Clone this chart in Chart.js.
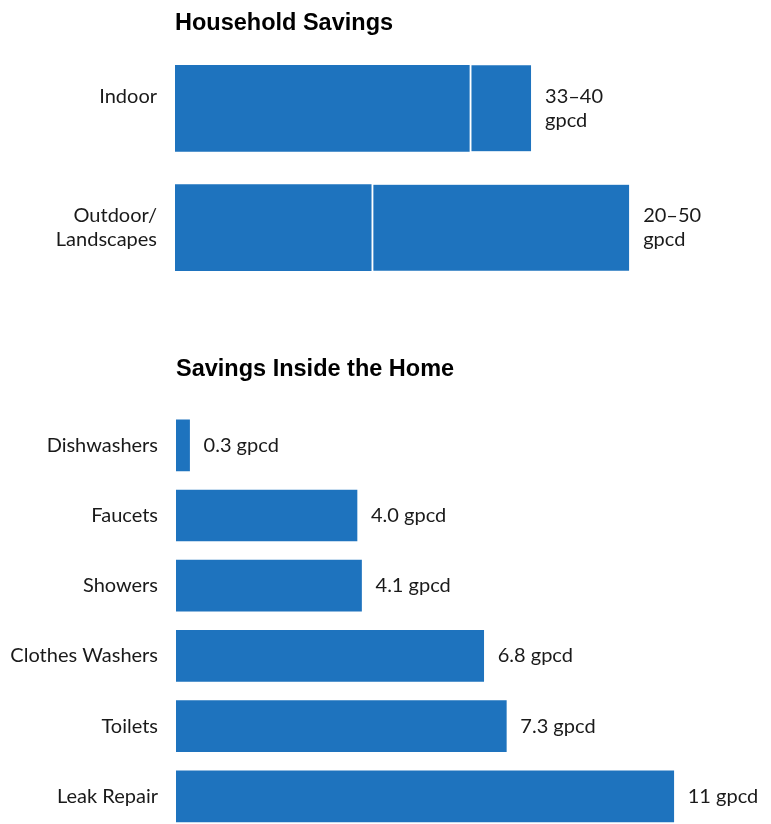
<!DOCTYPE html>
<html>
<head>
<meta charset="utf-8">
<script src="https://cdn.jsdelivr.net/npm/chart.js@4.4.1/dist/chart.umd.min.js"></script>
<style>
  html, body { margin: 0; padding: 0; background: #fff; overflow: hidden; }
  #wrap { position: relative; width: 771px; height: 824px; }
  canvas { position: absolute; left: 0; }
  #householdChart { top: 0; }
  #homeChart { top: 300px; }
</style>
</head>
<body>
<div id="wrap">
  <canvas id="householdChart" width="771" height="300"></canvas>
  <canvas id="homeChart" width="771" height="540"></canvas>
</div>
<script>
// household savings (gpcd) - low end of range and the extra up to the high end
const householdCategories = [["Indoor", ""], ["Outdoor/", "Landscapes"]];
const householdLow = [32.4, 21.6];
const householdExtra = [6.8, 28.4];
const householdValueLabels = [["33–40", "gpcd"], ["20–50", "gpcd"]];

// savings inside the home (gpcd)
const homeCategories = ["Dishwashers", "Faucets", "Showers", "Clothes Washers", "Toilets", "Leak Repair"];
const homeValues = [0.3, 4.0, 4.1, 6.8, 7.3, 11];
const homeValueLabels = ["0.3 gpcd", "4.0 gpcd", "4.1 gpcd", "6.8 gpcd", "7.3 gpcd", "11 gpcd"];

const blue = "#1e73be";
const labelFont = { family: "Lato", size: 20, lineHeight: 1.23 };

// writes the value text just right of the end of each bar
const valueLabels = {
  id: "valueLabels",
  afterDatasetsDraw(chart, args, opts) {
    const ctx = chart.ctx;
    const meta = chart.getDatasetMeta(chart.data.datasets.length - 1);
    ctx.save();
    ctx.font = `${labelFont.size}px ${labelFont.family}`;
    ctx.fillStyle = "#1a1a1a";
    ctx.textAlign = "left";
    ctx.textBaseline = "middle";
    const lh = labelFont.size * labelFont.lineHeight;
    meta.data.forEach((bar, i) => {
      let lines = opts.labels[i];
      if (!Array.isArray(lines)) lines = [lines];
      lines.forEach((txt, j) => {
        ctx.fillText(txt, bar.x + 14, bar.y + (j - (lines.length - 1) / 2) * lh);
      });
    });
    ctx.restore();
  }
};

function yAxis(width) {
  return {
    stacked: true,
    grid: { display: false, drawTicks: false },
    border: { display: false },
    ticks: { color: "#1a1a1a", font: labelFont, padding: 18, autoSkip: false },
    afterFit(scale) {
      scale.width = width;
      // labels sit inside their bands, so no extra room above/below
      scale.paddingTop = 0;
      scale.paddingBottom = 0;
    }
  };
}

function titleOpts(text, top, bottom) {
  return {
    display: true,
    text: text,
    align: "start",
    fullSize: false,
    color: "#000",
    font: { family: "Liberation Sans", weight: "bold", size: 23.5, lineHeight: 1.2 },
    padding: { top: top, bottom: bottom }
  };
}

new Chart(document.getElementById("householdChart"), {
  type: "bar",
  data: {
    labels: householdCategories,
    datasets: [
      {
        data: householdLow,
        backgroundColor: blue,
        borderWidth: 0,
        barThickness: 86
      },
      {
        data: householdExtra,
        backgroundColor: blue,
        borderColor: "#ffffff",
        borderWidth: { left: 2.5, right: 0, top: 0, bottom: 0 },
        borderSkipped: false,
        barThickness: 86
      }
    ]
  },
  options: {
    indexAxis: "y",
    responsive: false,
    animation: false,
    layout: { padding: { top: 0, right: 51, bottom: 12.7, left: 0 } },
    scales: {
      x: { display: false, stacked: true, min: 0, max: 60 },
      y: yAxis(175)
    },
    plugins: {
      legend: { display: false },
      tooltip: { enabled: false },
      title: titleOpts("Household Savings", 9, 11.5),
      valueLabels: { labels: householdValueLabels }
    }
  },
  plugins: [valueLabels]
});

new Chart(document.getElementById("homeChart"), {
  type: "bar",
  data: {
    labels: homeCategories,
    datasets: [{
      data: homeValues,
      backgroundColor: blue,
      borderWidth: 0,
      barThickness: 51
    }]
  },
  options: {
    indexAxis: "y",
    responsive: false,
    animation: false,
    layout: { padding: { top: 0, right: 52, bottom: 8.6, left: 0 } },
    scales: {
      x: { display: false, min: 0, max: 12 },
      y: yAxis(176)
    },
    plugins: {
      legend: { display: false },
      tooltip: { enabled: false },
      title: titleOpts("Savings Inside the Home", 55.2, 26.8),
      valueLabels: { labels: homeValueLabels }
    }
  },
  plugins: [valueLabels]
});
</script>
</body>
</html>
